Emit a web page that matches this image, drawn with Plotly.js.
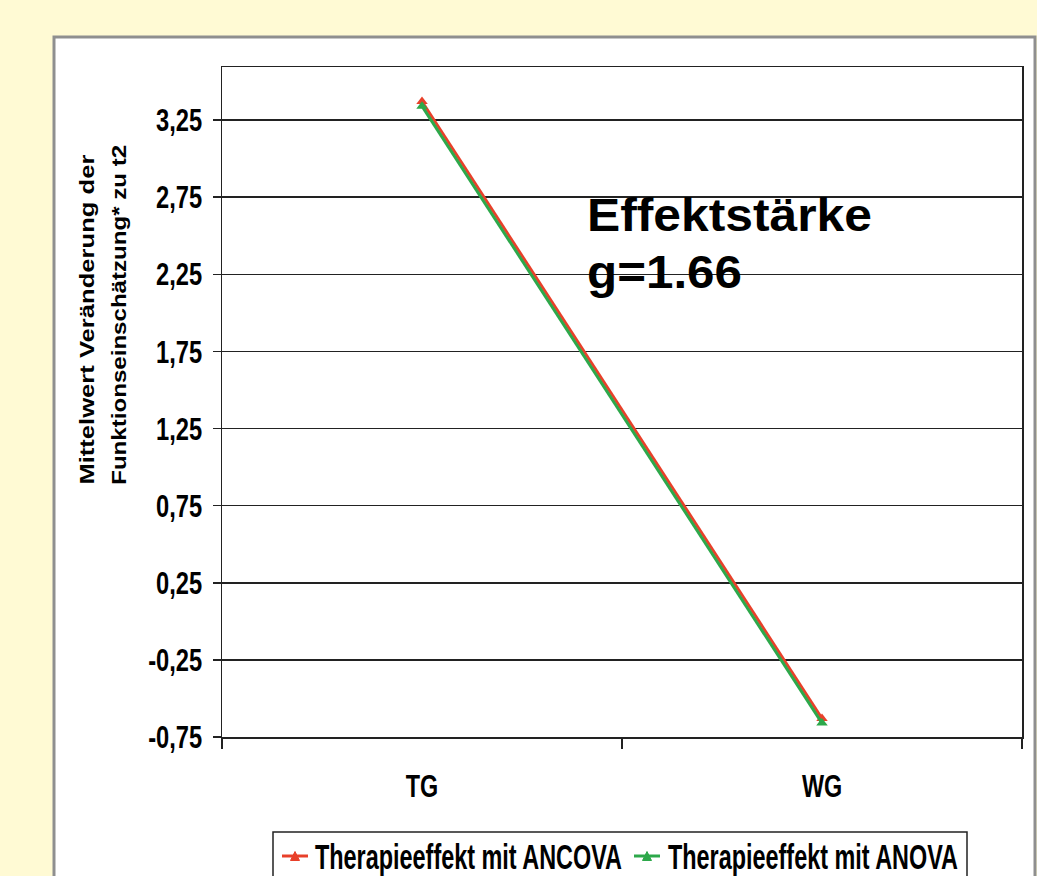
<!DOCTYPE html>
<html><head><meta charset="utf-8">
<script src="https://cdn.plot.ly/plotly-3.0.1.min.js"></script>
<style>html,body{margin:0;padding:0;background:#FFFAD4;}</style>
</head><body>
<div id="chart" style="width:1037px;height:876px;"></div>
<script>
const categories = ["TG", "WG"];
const ancova = [3.37, -0.63];
const anova = [3.34, -0.66];
const seriesNames = ["Therapieeffekt mit ANCOVA", "Therapieeffekt mit ANOVA"];
const seriesColors = ["#E8402A", "#2DA84A"];
const yTickVals = [-0.75, -0.25, 0.25, 0.75, 1.25, 1.75, 2.25, 2.75, 3.25];
const yTickText = ["-0,75", "-0,25", "0,25", "0,75", "1,25", "1,75", "2,25", "2,75", "3,25"];
const yTitleLines = ["Mittelwert Veränderung der", "Funktionseinschätzung* zu t2"];
const effectLines = ["Effektstärke", "g=1.66"];

const sans = "'Liberation Sans', Arial, sans-serif";

// plot area in pixels
const L = 222, R = 1022, T = 67, B = 737;
const px = x => (x - L) / (R - L);
const py = y => (B - y) / (B - T);

const traces = [
  {x: categories, y: ancova, name: seriesNames[0], type: "scatter", mode: "lines+markers",
   line: {color: seriesColors[0], width: 3}, marker: {symbol: "triangle-up", size: 10, color: seriesColors[0]}},
  {x: categories, y: anova, name: seriesNames[1], type: "scatter", mode: "lines+markers",
   line: {color: seriesColors[1], width: 3}, marker: {symbol: "triangle-up", size: 10, color: seriesColors[1]}}
];

function legendMarker(cx, cy, color) {
  const s = 4.5;
  return [
    {type: "line", xref: "paper", yref: "paper", x0: px(cx - 13), x1: px(cx + 13), y0: py(cy), y1: py(cy),
     line: {color: color, width: 3}},
    {type: "path", xref: "paper", yref: "paper",
     path: `M ${px(cx - s)} ${py(cy + s)} L ${px(cx + s)} ${py(cy + s)} L ${px(cx)} ${py(cy - s)} Z`,
     fillcolor: color, line: {color: color, width: 1}}
  ];
}

const legendFont = 24;

const layout = {
  width: 1037, height: 876,
  margin: {l: L, r: 1037 - R, t: T, b: 876 - B, autoexpand: false},
  paper_bgcolor: "#FFFAD4",
  plot_bgcolor: "rgba(0,0,0,0)",
  showlegend: false,
  xaxis: {type: "category", range: [-0.5, 1.5], tickson: "boundaries", ticks: "outside",
    ticklen: 10, tickwidth: 1.5, tickcolor: "#222", showline: true, mirror: true,
    linecolor: "#222", linewidth: 1.5, showgrid: false, zeroline: false, automargin: false,
    ticklabelstandoff: 20,
    tickfont: {family: sans, size: 32, color: "#000", weight: "bold"}},
  yaxis: {range: [-0.75, 3.594], tickvals: yTickVals, ticktext: yTickText,
    ticks: "outside", ticklen: 8, tickwidth: 1.5, tickcolor: "#222",
    showline: true, mirror: true, linecolor: "#222", linewidth: 1.5, automargin: false,
    showgrid: true, gridcolor: "#222", gridwidth: 1.5, zeroline: false,
    ticklabelstandoff: 4,
    tickfont: {family: sans, size: 32, color: "#000", weight: "bold"}},
  shapes: [
    {type: "rect", xref: "paper", yref: "paper", x0: px(54), x1: px(1035), y0: py(900), y1: py(37),
     fillcolor: "#fff", line: {color: "#8f8f8f", width: 3}, layer: "below"},
    {type: "rect", xref: "paper", yref: "paper", x0: px(273), x1: px(967), y0: py(900), y1: py(832),
     fillcolor: "#fff", line: {color: "#222", width: 1.5}},
    ...legendMarker(295, 856, seriesColors[0]),
    ...legendMarker(647, 856, seriesColors[1])
  ],
  annotations: [
    {xref: "paper", yref: "paper", x: px(585), y: py(214.5), xanchor: "left", yanchor: "middle", align: "left",
     showarrow: false, text: effectLines[0], font: {family: sans, size: 46, color: "#000", weight: "bold"}},
    {xref: "paper", yref: "paper", x: px(585), y: py(271.5), xanchor: "left", yanchor: "middle", align: "left",
     showarrow: false, text: effectLines[1], font: {family: sans, size: 46, color: "#000", weight: "bold"}},
    {xref: "paper", yref: "paper", x: px(86), y: py(320), xanchor: "center", yanchor: "middle", textangle: -90,
     showarrow: false, text: yTitleLines[0], font: {family: sans, size: 21, color: "#000", weight: "bold"}},
    {xref: "paper", yref: "paper", x: px(118), y: py(315), xanchor: "center", yanchor: "middle", textangle: -90,
     showarrow: false, text: yTitleLines[1], font: {family: sans, size: 21, color: "#000", weight: "bold"}},
    {xref: "paper", yref: "paper", x: px(313), y: py(861), xanchor: "left", yanchor: "middle", align: "left",
     showarrow: false, text: seriesNames[0], font: {family: sans, size: legendFont, color: "#000", weight: "bold"}},
    {xref: "paper", yref: "paper", x: px(666), y: py(861), xanchor: "left", yanchor: "middle", align: "left",
     showarrow: false, text: seriesNames[1], font: {family: sans, size: legendFont, color: "#000", weight: "bold"}}
  ]
};

// target text lengths (px) of the condensed / stretched lettering
const annLengths = [285, 155, 330, 340, 307, 290];
// vertical stretch of the tall legend lettering (cap height 25px)
const annStretch = [1, 1, 1, 1, 25 / (0.716 * legendFont), 25 / (0.716 * legendFont)];

function setLen(el, len) {
  el.setAttribute("textLength", len);
  el.setAttribute("lengthAdjust", "spacingAndGlyphs");
}

Plotly.newPlot("chart", traces, layout, {displayModeBar: false, staticPlot: true}).then(gd => {
  gd.querySelectorAll(".ytick text").forEach(el => setLen(el, el.getComputedTextLength() * 0.74));
  gd.querySelectorAll(".xtick text").forEach(el => setLen(el, el.getComputedTextLength() * 0.73));
  annLengths.forEach((len, i) => {
    const el = gd.querySelector(`.annotation[data-index="${i}"] text`);
    if (!el) return;
    setLen(el, len);
    const s = annStretch[i];
    if (s !== 1) {
      const by = parseFloat(el.getAttribute("y")) || 0;
      const prev = el.getAttribute("transform") || "";
      el.setAttribute("transform", `${prev} translate(0,${by}) scale(1,${s}) translate(0,${-by})`.trim());
    }
  });
});
</script>
</body></html>
